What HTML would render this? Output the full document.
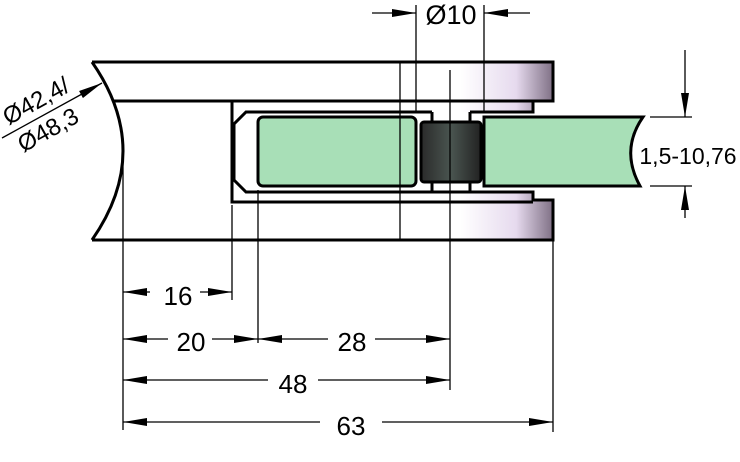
<!DOCTYPE html>
<html><head><meta charset="utf-8"><style>html,body{margin:0;padding:0;background:#fff}svg{display:block}</style></head>
<body>
<svg width="740" height="462" viewBox="0 0 740 462" xmlns="http://www.w3.org/2000/svg" font-family="Liberation Sans, sans-serif">
<defs>
<linearGradient id="g" gradientUnits="userSpaceOnUse" x1="92" x2="553" y1="0" y2="0">
<stop offset="0" stop-color="#fff"/><stop offset="0.8" stop-color="#fff"/><stop offset="0.92" stop-color="#e6daee"/><stop offset="1" stop-color="#7f7085"/>
</linearGradient>
<linearGradient id="d" x1="0" x2="1">
<stop offset="0" stop-color="#2a2a2a"/><stop offset="0.5" stop-color="#4a5550"/><stop offset="1" stop-color="#222"/>
</linearGradient>
<marker id="a" viewBox="0 0 24 8" refX="24" refY="4" markerWidth="24" markerHeight="8" markerUnits="userSpaceOnUse" orient="auto-start-reverse"><path d="M0,0 L24,4 L0,8 z" fill="#000"/></marker>
</defs>
<g stroke="#000" fill="none">
<rect x="92" y="62" width="461" height="39" fill="url(#g)" stroke="none"/>
<rect x="92" y="200" width="461" height="40" fill="url(#g)" stroke="none"/>
<rect x="232" y="101" width="301" height="11" fill="url(#g)" stroke="none"/>
<rect x="232" y="191" width="301" height="9" fill="url(#g)" stroke="none"/>
<path d="M92,62 H553 V101 H533 V112 H470" stroke-width="3"/>
<path d="M432,112 H246 L234,124 V180 L246,192 H533 V200 H553 V240 H92" stroke-width="3"/>
<path d="M105,101 H553 M232,101 V202 H533" stroke-width="3"/>
<path d="M92,62 Q154,151 92,240" fill="#fff" stroke-width="3"/>
<path d="M432,112 V121 M470,112 V121 M432,182 V191 M470,182 V191" stroke-width="3"/>
<rect x="258" y="117" width="158" height="69" rx="5" fill="#a8dfb7" stroke-width="3"/>
<path d="M484,117 H643 Q620,150 640,186 H484 Z" fill="#a8dfb7" stroke-width="3"/>
<rect x="421" y="122" width="60" height="60" rx="3" fill="url(#d)" stroke-width="3"/>
<g stroke-width="1.3">
<path d="M450,70 V390 M400,62 V240 M416,5 V112 M484,5 V112"/>
<path d="M123,150 V430 M232,205 V300 M258,190 V343 M553,240 V432"/>
<path d="M650,117 H692 M650,186 H692"/>
<path d="M685,50 V117" marker-end="url(#a)"/>
<path d="M685,218 V186" marker-end="url(#a)"/>
<path d="M372,13 H416" marker-end="url(#a)"/>
<path d="M530,13 H484" marker-end="url(#a)"/>
<path d="M2,138 L102,83" marker-end="url(#a)"/>
<path d="M123,292 H150" marker-start="url(#a)"/><path d="M200,292 H232" marker-end="url(#a)"/>
<path d="M123,339 H168" marker-start="url(#a)"/><path d="M212,339 H258" marker-end="url(#a)"/>
<path d="M258,339 H328" marker-start="url(#a)"/><path d="M375,339 H450" marker-end="url(#a)"/>
<path d="M123,380 H268" marker-start="url(#a)"/><path d="M318,380 H450" marker-end="url(#a)"/>
<path d="M123,422 H320" marker-start="url(#a)"/><path d="M382,422 H553" marker-end="url(#a)"/>
</g>
</g>
<g font-size="26" fill="#000" text-anchor="middle">
<text x="451" y="24" font-size="27">Ø10</text>
<text x="178" y="305">16</text>
<text x="191" y="351">20</text>
<text x="352" y="351">28</text>
<text x="293" y="393">48</text>
<text x="351" y="435">63</text>
<text x="688" y="164" font-size="23">1,5-10,76</text>
<text transform="translate(40,108) rotate(-29)" font-size="24">Ø42,4/</text>
<text transform="translate(52,137) rotate(-29)" font-size="24">Ø48,3</text>
</g>
</svg>
</body></html>
